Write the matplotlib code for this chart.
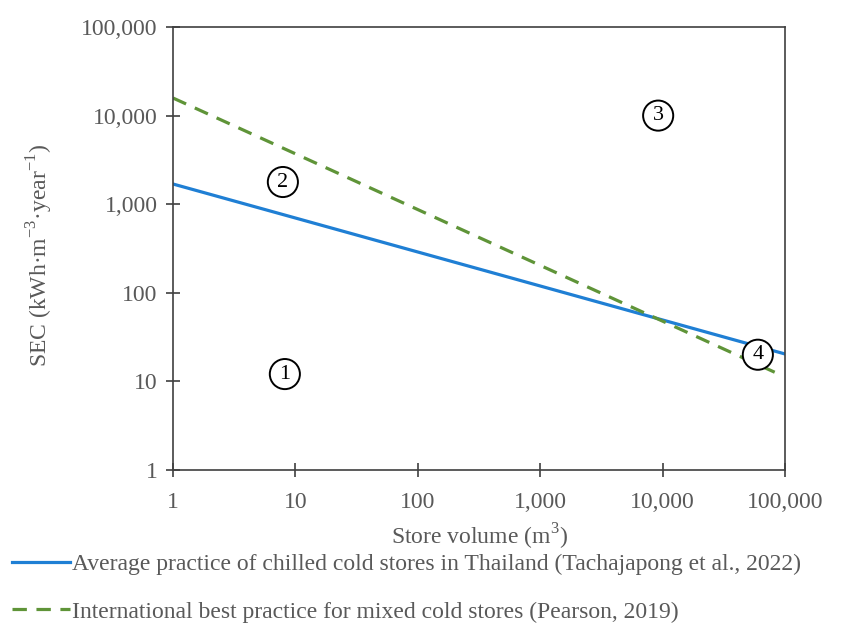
import matplotlib
matplotlib.use("Agg")
import matplotlib.pyplot as plt
from matplotlib.ticker import FixedLocator, FixedFormatter, NullLocator

plt.rcParams["font.family"] = ["Liberation Serif", "DejaVu Serif"]
plt.rcParams["mathtext.fontset"] = "custom"
plt.rcParams["mathtext.rm"] = "Liberation Serif"

# Data
volume_avg = [1, 100000]
sec_avg = [1690, 20.4]
volume_best = [1, 90000]
sec_best = [15800, 12.0]

zone_labels = ["1", "2", "3", "4"]
zone_x = [8.2, 7.9, 9200, 60000]
zone_y = [12.1, 1780, 10000, 20]

tick_vals = [1, 10, 100, 1000, 10000, 100000]
tick_labels = ["1", "10", "100", "1,000", "10,000", "100,000"]

text_gray = "#595959"
fs = 17

fig = plt.figure(figsize=(8.48, 6.24), dpi=100)
ax = fig.add_axes([173 / 848, 1 - 470 / 624, 612 / 848, 443 / 624])

ax.plot(volume_avg, sec_avg, color="#1f7fd4", lw=2.3,
        label="Average practice of chilled cold stores in Thailand (Tachajapong et al., 2022)")
ax.plot(volume_best, sec_best, color="#5f9438", lw=2.3, ls=(0, (4.5, 3)),
        label="International best practice for mixed cold stores (Pearson, 2019)")

for lab, x, y in zip(zone_labels, zone_x, zone_y):
    ax.text(x, y, lab, fontsize=16, ha="center", va="center", color="black",
            bbox=dict(boxstyle="circle,pad=0.25", facecolor="white", edgecolor="black", lw=1.4))

ax.set_xscale("log")
ax.set_yscale("log")
ax.set_xlim(1, 100000)
ax.set_ylim(1, 100000)
for axis in (ax.xaxis, ax.yaxis):
    axis.set_major_locator(FixedLocator(tick_vals))
    axis.set_major_formatter(FixedFormatter(tick_labels))
    axis.set_minor_locator(NullLocator())

ax.tick_params(direction="inout", length=10, width=1.2, colors="#404040",
               labelcolor=text_gray, labelsize=fs, pad=6)
ax.tick_params(axis="x", pad=11)
for s in ax.spines.values():
    s.set_color("#404040")
    s.set_linewidth(1.2)

fig.text(479 / 848, 1 - 537 / 624, "Store volume (m$^3$)", fontsize=fs, color=text_gray,
         ha="center", va="center")
fig.text(40 / 848, 1 - 255 / 624, "SEC (kWh·m$^{-3}$·year$^{-1}$)", fontsize=fs, color=text_gray,
         ha="center", va="center", rotation=90)

leg = fig.legend(loc="center left", frameon=False, fontsize=fs, handlelength=2.45,
                 handletextpad=0.1, labelspacing=1.12, borderaxespad=0, borderpad=0)
leg.set_bbox_to_anchor((12 / 848, 1 - 588 / 624), transform=fig.transFigure)
for t in leg.get_texts():
    t.set_color(text_gray)

fig.savefig("out.png", dpi=100, facecolor="white")
